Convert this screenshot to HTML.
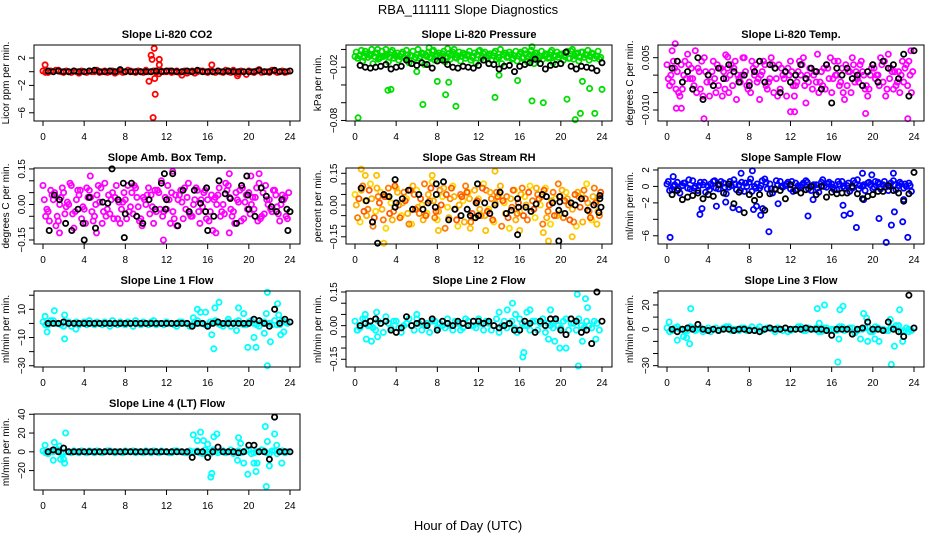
<!DOCTYPE html>
<html><head><meta charset="utf-8"><style>
body{margin:0;background:#fff;}
svg{display:block;font-family:"Liberation Sans",Arial,sans-serif;}
</style></head><body>
<svg id="chart" width="936" height="540" viewBox="0 0 936 540" xmlns="http://www.w3.org/2000/svg">
<rect width="936" height="540" fill="#fff"/>
<text x="468" y="14" text-anchor="middle" font-size="13">RBA_111111  Slope Diagnostics</text>
<text x="468" y="530" text-anchor="middle" font-size="13">Hour of Day (UTC)</text>
</svg>
<script>
const hourTicks=[0,4,8,12,16,20,24];
// CO2
const co2A=[0.1,-0.1,0,0.2,-0.1,0,0.1,-0.2,0,0.1,0,-0.1,0.1,0,-0.2,0.1,0,0.1,-0.1,0,0.2,0,-0.1,0.1,0,-0.1,0.1,0,-0.2,0.1,0,0.1,-0.1,0,0.1,-0.1,0,0.2,-0.3,0,0.1,-0.1,0.3,0,-0.1,0.1,0,-0.1];
const co2B=[-0.1,0.1,0.2,0,0.1,-0.1,0,0.1,-0.1,0,0.2,0,-0.1,0.1,0,-0.1,0.2,0,0.1,-0.1,0,0.1,-0.3,0,0.1,0,-0.1,0.1,0,-0.2,0.1,0,0.1,-0.1,0,0.2,-0.1,0,0.1,-0.4,0,0.1,-0.1,0,0.2,-0.1,0.1,0];
const co2Out=[[0.2,1.0],[10.3,-1.4],[10.5,2.4],[10.6,1.8],[10.7,-6.7],[10.8,3.4],[10.9,-3.3],[10.85,-1],[11.3,1.8],[11.3,1.0],[16.4,1.0],[18.9,-0.6],[13.5,-0.5]];
const co2K=[0.1,0,0.1,0,0,0.1,0,0,0.1,0.2,0,0,0.1,0,0.3,0,0,0,0,0,0,0.1,0,0.1,0.1,0,0,0.1,0,0.2,0,0,0,0.1,0,0.1,0,0,0,0,0,0.2,0,0,0.2,0,0,0.1];
// Pressure
const presA=[-0.008,-0.006,-0.002,-0.007,-0.004,-0.009,-0.006,-0.003,-0.008,-0.005,-0.001,-0.007,-0.006,-0.004,-0.008,-0.002,-0.006,-0.005,-0.009,-0.003,-0.007,-0.004,-0.006,-0.008,-0.002,-0.005,-0.007,-0.004,-0.009,-0.006,-0.003,-0.007,-0.005,-0.001,-0.006,-0.004,-0.008,-0.005,-0.003,-0.007,-0.006,-0.004,-0.002,-0.005,-0.003,-0.006,-0.004,-0.008];
const presB=[-0.010,-0.013,-0.009,-0.016,-0.011,-0.008,-0.014,-0.010,-0.012,-0.009,-0.015,-0.011,-0.010,-0.017,-0.009,-0.012,-0.010,-0.014,-0.011,-0.009,-0.013,-0.010,-0.012,-0.015,-0.010,-0.008,-0.012,-0.011,-0.016,-0.009,-0.011,-0.013,-0.010,-0.014,-0.009,-0.012,-0.011,-0.010,-0.015,-0.009,-0.012,-0.010,-0.011,-0.013,-0.009,-0.012,-0.010,-0.011];
const presC=[-0.003,-0.001,-0.005,0.000,-0.004,-0.002,-0.006,-0.001,-0.004,-0.003,-0.006,-0.002,0.000,-0.005,-0.003,-0.001,-0.004,-0.002,-0.005,0.000,-0.003,-0.006,-0.002,-0.004,-0.001,-0.003,-0.005,-0.002,0.000,-0.004,-0.006,-0.002,-0.003,-0.005,-0.001,-0.004,-0.002,-0.006,-0.001,-0.003,-0.005,-0.002,0.000,-0.004,-0.003,-0.001,-0.005,-0.002];
const presD=[-0.007,-0.009,-0.006,-0.008,-0.010,-0.007,-0.009,-0.006,-0.008,-0.010,-0.007,-0.009,-0.008,-0.006,-0.010,-0.007,-0.009,-0.008,-0.006,-0.010,-0.008,-0.007,-0.009,-0.006,-0.008,-0.010,-0.007,-0.009,-0.006,-0.008,-0.010,-0.007,-0.009,-0.008,-0.006,-0.010,-0.007,-0.009,-0.008,-0.006,-0.008,-0.010,-0.007,-0.009,-0.006,-0.008,-0.007,-0.009];
const presOut=[[0.3,-0.077],[3.2,-0.046],[3.5,-0.045],[6.6,-0.062],[8.0,-0.036],[8.8,-0.051],[9.1,-0.037],[9.8,-0.064],[13.6,-0.054],[14.0,-0.029],[15.8,-0.035],[17.2,-0.058],[18.3,-0.06],[17.4,-0.016],[20.6,-0.056],[21.4,-0.079],[21.9,-0.072],[22.1,-0.036],[22.8,-0.044],[23.3,-0.072],[24,-0.045],[6.0,-0.025],[2.2,0.0],[3,0.0],[7.2,0.002],[9,0.001],[17.2,0.003]];
const presK=[-0.018,-0.020,-0.021,-0.020,-0.019,-0.017,-0.022,-0.020,-0.019,-0.012,-0.016,-0.018,-0.015,-0.017,-0.021,-0.013,-0.012,-0.017,-0.020,-0.021,-0.019,-0.020,-0.021,-0.018,-0.012,-0.016,-0.017,-0.022,-0.019,-0.018,-0.025,-0.019,-0.017,-0.015,-0.011,-0.016,-0.022,-0.018,-0.017,-0.016,-0.003,-0.019,-0.022,-0.019,-0.020,-0.021,-0.024,-0.015];
// Li-820 Temp
const tempA=[0.003,-0.002,0.001,-0.004,0.006,-0.001,0.002,-0.006,0.000,0.004,-0.003,0.001,-0.005,0.002,-0.001,0.005,-0.002,0.000,-0.007,0.003,-0.001,0.002,-0.004,0.001,0.004,-0.003,0.000,-0.008,0.002,-0.002,0.001,0.003,-0.005,0.000,0.002,-0.003,0.005,-0.001,0.001,-0.006,0.003,0.000,-0.002,0.006,-0.004,0.001,-0.002,0.004];
const tempB=[-0.003,0.002,-0.006,0.004,-0.001,0.007,-0.004,0.001,-0.002,-0.005,0.002,-0.001,0.003,-0.007,0.000,-0.003,0.004,-0.002,0.001,-0.004,0.003,-0.006,0.000,0.002,-0.003,0.001,0.005,-0.002,0.000,-0.005,0.002,-0.001,0.004,-0.003,-0.007,0.001,-0.002,0.003,-0.004,0.000,-0.001,0.005,-0.006,0.002,-0.003,0.000,0.003,-0.005];
const tempC=[-0.001,0.004,-0.005,0.000,0.003,-0.003,0.001,0.005,-0.006,-0.001,0.002,-0.004,0.000,0.004,-0.002,0.001,-0.005,0.003,0.000,-0.003,0.005,-0.001,0.002,-0.006,0.001,-0.002,0.003,0.000,-0.004,0.006,-0.003,0.002,-0.001,0.004,-0.005,0.001,0.003,-0.002,0.000,-0.004,0.002,-0.003,0.004,-0.001,0.001,-0.005,0.002,0.000];
const tempD=[0.000,-0.004,0.003,-0.001,0.002,-0.005,0.004,-0.002,0.001,0.003,-0.006,0.002,-0.003,0.000,0.005,-0.004,0.002,-0.001,0.004,-0.002,-0.005,0.003,-0.001,0.000,-0.006,0.004,-0.003,0.002,0.001,-0.002,-0.004,0.005,0.000,-0.002,0.003,-0.005,0.001,0.004,-0.003,0.002,0.000,0.003,-0.004,0.001,-0.002,0.004,-0.003,0.001];
const tempOut=[[0.5,0.007],[0.8,0.009],[3.6,-0.0125],[5.7,0.0058],[5.9,0.0052],[19.3,-0.011],[23.4,-0.0125],[23.7,0.007],[0.9,-0.0095],[1.4,-0.0095],[12.0,-0.0105],[12.4,-0.0105]];
const tempK=[0.002,0.004,-0.002,0.001,-0.004,0.005,-0.007,0.000,-0.003,0.002,-0.001,0.003,0.001,-0.002,0.000,-0.003,0.001,0.004,-0.002,0.003,0.002,-0.005,0.001,-0.002,0.000,0.003,-0.001,0.002,0.001,-0.004,0.003,-0.008,0.002,0.000,0.002,-0.001,0.000,-0.003,0.001,0.003,-0.002,0.004,0.002,0.003,-0.001,0.006,-0.006,0.007];
// Amb box temp
const ambA=[0.08,-0.03,0.02,-0.07,0.05,0.00,-0.10,0.04,-0.02,0.06,-0.05,0.01,0.09,-0.04,0.03,-0.08,0.02,-0.01,0.07,-0.06,0.00,0.04,-0.03,0.10,-0.02,0.05,-0.09,0.01,0.03,-0.05,0.06,-0.01,0.02,-0.11,0.04,0.00,0.08,-0.03,0.01,-0.06,0.05,-0.02,0.09,-0.04,0.02,0.06,-0.07,0.03];
const ambB=[-0.05,0.06,-0.09,0.03,-0.01,0.08,0.02,-0.06,0.07,-0.03,0.04,-0.08,-0.02,0.05,-0.06,0.01,0.08,-0.04,-0.01,0.03,0.07,-0.08,0.05,-0.03,0.02,-0.06,0.04,0.07,-0.04,0.02,-0.08,0.06,-0.03,0.03,-0.05,0.09,-0.02,0.05,-0.07,0.04,0.00,0.07,-0.05,0.02,-0.03,-0.01,0.04,-0.06];
const ambC=[0.02,-0.07,0.05,0.00,-0.04,0.09,-0.03,0.06,-0.08,0.03,0.00,0.07,-0.05,0.02,0.08,-0.02,-0.06,0.05,0.03,-0.09,0.04,-0.01,0.06,-0.05,0.08,-0.03,0.02,-0.06,0.09,0.00,-0.03,0.05,-0.07,0.02,0.07,-0.04,0.03,-0.08,0.06,0.01,-0.04,0.03,-0.06,0.08,-0.02,0.04,0.00,-0.05];
const ambD=[-0.02,0.04,-0.05,0.07,0.01,-0.04,0.06,-0.01,0.03,-0.07,0.08,-0.03,0.04,-0.06,0.01,0.05,-0.03,0.08,-0.07,0.02,-0.04,0.06,-0.02,0.03,-0.08,0.04,0.06,-0.02,-0.05,0.07,0.02,-0.06,0.04,0.00,-0.03,0.06,-0.05,0.02,0.07,-0.02,0.03,-0.07,0.05,0.00,0.06,-0.04,0.02,0.05];
const ambOut=[[1.6,-0.12],[4.6,0.12],[5.2,-0.12],[11.7,-0.15],[12.6,0.14],[16.8,-0.12],[18.1,-0.12],[18.1,0.13],[20.2,0.12],[21.0,0.13]];
const ambKPts=[[0.6,-0.11],[1.1,0.04],[1.6,0.02],[2.2,-0.08],[2.8,-0.11],[3.4,-0.02],[3.9,-0.08],[4,-0.15],[4.5,0.03],[5.1,-0.10],[5.8,0.01],[6.3,0.005],[6.7,0.15],[7.3,0.02],[7.9,-0.14],[7.8,0.09],[8.0,-0.04],[8.6,0.09],[9.1,-0.05],[9.7,-0.08],[10.3,0.02],[10.9,-0.02],[11.5,0.09],[11.8,0.13],[11.9,-0.02],[12.0,0.02],[12.6,0.13],[13.1,-0.09],[13.6,0.06],[14.2,-0.03],[14.7,0.06],[15.3,0.005],[15.8,-0.03],[15.9,0.07],[16,-0.11],[16.6,-0.05],[17.1,0.10],[17.7,0.045],[18.2,0.025],[18.8,-0.08],[19.3,0.08],[19.8,0.12],[19.9,0.04],[20.0,-0.02],[20.6,-0.05],[21.2,0.07],[21.7,0.035],[22.2,-0.01],[22.7,-0.03],[23.2,0.02],[23.7,-0.02],[23.8,-0.11],[24.0,-0.03]];
// Gas stream RH
const rhA=[0.05,-0.08,0.02,0.10,-0.03,0.06,-0.11,0.01,0.08,-0.05,0.03,-0.09,0.07,0.00,-0.04,0.11,-0.07,0.04,-0.01,0.09,-0.10,0.02,0.06,-0.06,0.03,0.10,-0.02,-0.08,0.05,0.01,-0.11,0.07,-0.03,0.04,0.09,-0.06,0.00,0.08,-0.09,0.03,-0.04,0.06,0.01,-0.10,0.05,0.10,-0.07,0.02];
const rhB=[-0.06,0.09,-0.02,-0.10,0.04,-0.07,0.08,-0.03,0.00,0.06,-0.09,0.05,-0.04,0.10,0.02,-0.06,0.07,-0.11,0.03,-0.02,0.05,0.09,-0.08,0.01,-0.05,0.07,0.03,0.06,-0.10,0.04,-0.01,-0.04,0.08,-0.07,0.02,0.05,-0.09,-0.03,0.06,0.10,-0.06,0.00,-0.08,0.04,0.07,-0.03,0.08,-0.05];
const rhC=[0.00,0.07,-0.05,0.03,0.08,-0.02,0.04,-0.07,0.06,0.01,-0.04,0.09,-0.01,-0.07,0.05,0.02,-0.03,0.08,-0.06,0.04,0.00,-0.08,0.03,0.07,-0.02,-0.05,0.06,0.01,0.09,-0.04,0.03,-0.07,0.05,0.00,-0.03,0.08,0.04,-0.06,0.02,-0.05,0.07,0.03,-0.02,0.06,-0.08,0.01,0.04,-0.03];
const rhD=[0.03,-0.03,0.07,-0.06,0.01,0.04,-0.04,0.09,-0.06,0.02,0.07,-0.02,0.03,-0.05,0.08,-0.03,0.00,0.05,0.08,-0.07,0.04,0.06,-0.04,0.02,0.08,-0.03,-0.07,0.04,0.02,-0.06,0.07,0.01,-0.05,0.06,-0.02,0.03,0.07,0.00,-0.05,0.04,0.02,-0.07,0.05,-0.01,0.03,-0.06,0.01,0.06];
const rhOut=[[0.6,0.17],[1.0,0.14],[2.1,0.14],[2.8,-0.18],[7.5,0.14],[8.1,-0.12],[11.2,-0.11],[12.7,-0.12],[13.6,0.16],[16.0,-0.12],[18.3,-0.13],[18.8,-0.17],[21.1,-0.15],[23.5,-0.09]];
const rhKPts=[[0.6,0.08],[1.1,0.02],[1.7,-0.08],[2.2,-0.18],[2.8,0.05],[3.3,0.04],[3.9,-0.01],[3.9,0.12],[4,0.01],[4.6,0.03],[5.2,0.07],[5.6,-0.02],[6.2,0.05],[6.6,-0.02],[7.1,0.01],[7.8,-0.01],[7.9,0.10],[7.9,0.05],[8.6,0.11],[9.1,-0.07],[9.7,-0.02],[10.3,-0.05],[10.9,-0.02],[11.2,-0.05],[11.7,-0.06],[11.8,0.01],[11.9,0.10],[12.0,-0.05],[12.6,0.01],[13.1,-0.04],[13.6,0.00],[14.1,0.06],[14.7,-0.04],[15.2,-0.025],[15.8,-0.14],[15.8,0.03],[15.9,-0.01],[16.6,-0.01],[17.1,-0.03],[17.6,0.005],[18.2,0.05],[18.6,0.04],[19.2,0.01],[19.8,-0.025],[19.9,0.015],[19.9,0.04],[19.8,-0.17],[20.4,-0.04],[21.0,0.01],[21.4,0.00],[22.0,0.03],[22.6,-0.025],[23.2,0.00],[23.7,-0.035],[23.8,0.045],[23.9,-0.01],[23.8,0.03]];
// Sample flow
const sfA=[0.3,-0.4,0.5,0.1,-0.2,0.7,-0.5,0.2,0.0,0.6,-0.3,0.4,-0.1,0.8,0.2,-0.6,0.5,0.0,-0.2,0.9,0.3,-0.4,0.6,0.1,-0.3,0.4,0.0,0.7,-0.5,0.2,0.5,-0.1,0.3,-0.4,0.6,0.1,-0.2,0.8,0.0,0.4,-0.3,0.5,0.2,-0.5,0.7,0.1,-0.2,0.4];
const sfB=[-0.5,0.2,-0.8,0.4,-0.3,0.0,0.5,-0.7,0.3,-0.2,0.6,-0.9,0.1,-0.4,0.5,0.0,-0.6,0.3,0.7,-0.3,-0.8,0.2,-0.1,0.5,-0.6,0.1,0.4,-0.3,0.2,-0.7,0.0,0.5,-0.4,0.3,-0.2,-0.6,0.4,0.1,-0.5,0.2,0.6,-0.3,-0.1,0.4,-0.4,0.3,0.0,-0.6];
const sfC=[0.6,0.0,-0.3,0.4,0.8,-0.2,0.1,0.5,-0.4,0.7,0.2,-0.1,0.6,0.3,-0.5,0.4,0.9,-0.2,0.1,0.5,-0.3,0.7,0.0,0.3,0.6,-0.4,0.2,0.5,0.1,-0.2,0.8,0.3,-0.1,0.6,0.0,0.4,0.7,-0.3,0.2,0.5,-0.1,0.3,0.6,0.0,0.2,0.5,0.3,0.1];
const sfOut=[[0.3,-6.2],[0.6,1.2],[3.2,-3.4],[3.4,-2.7],[4.8,-2.4],[5.7,-1.9],[6.4,-2.6],[7.0,-2.8],[7.2,1.6],[8.3,1.9],[8.4,-2.8],[8.7,-2.4],[9.1,-3.5],[9.3,-2.7],[9.9,-5.5],[10.8,-2.1],[13.7,-3.6],[14.2,-1.6],[17.1,-2.3],[17.2,-3.5],[17.8,-3.3],[18.4,-5.0],[19.0,1.6],[19.1,-1.6],[19.9,1.4],[20.6,-3.9],[21.3,-6.8],[21.8,-4.7],[22.1,-3.1],[22.0,1.6],[22.9,-4.3],[23.4,-6.2],[23.0,-1.6]];
const sfK=[-1.0,-0.5,-1.6,-1.3,-1.1,-0.8,-1.5,-1.0,-1.2,0.2,-0.8,0.3,-2.1,-0.7,-3.2,-1.0,-1.7,-1.0,-2.9,-0.9,-0.3,-0.5,-1.5,0.2,-0.5,-0.8,-0.4,0.0,-1.0,0.0,-1.3,-0.7,-0.9,-0.8,-0.8,0.0,-0.9,-1.5,-1.2,-1.0,-0.6,-0.6,0.1,-0.5,-0.8,-1.8,-0.9,1.7];
// Line 1
const l1A=[1,-1,2,0,-2,1,0,-1,1,2,-1,0,1,-2,0,1,-1,0,2,-1,0,1,-1,0,1,0,-2,1,0,-1,2,0,-1,1,0,-2,1,0,2,-1,1,0,-2,1,0,2,-1,1];
const l1B=[-1,2,0,-1,1,-2,1,0,-1,0,1,-1,0,2,-1,0,1,-2,0,1,-1,2,0,-1,0,-1,1,0,-2,1,0,-1,1,2,-1,0,-2,1,0,-1,2,-1,1,0,-1,-1,2,0];
const l1Out=[[0.2,5],[0.4,-6],[1.1,9],[2.1,6],[2.1,-11],[3.2,-4],[14.6,4],[15.0,10],[15.3,8],[15.8,8],[16.4,-8],[16.6,-18],[16.7,11],[17.1,15],[18.0,3],[18.8,-5],[19.0,11],[19.5,7],[19.9,-17],[20.5,-10],[20.7,-17],[21.5,-7],[21.7,7],[21.8,-30],[21.8,22],[22.1,-13],[22.8,14],[22.9,6],[23.1,-8],[23.4,-6]];
const l1K=[0,0,0,1,0,0,0,0,0,0,0,0,0,0,0,0,0,0,0,0,0,0,0,0,0,0,0,0,-2,0,0,-2,0,1,0,0,0,0,0,0,3,2,0,-2,10,0,3,1];
// Line 2
const l2A=[0.02,-0.01,0.03,0.00,-0.02,0.01,0.04,-0.01,0.02,-0.03,0.01,0.00,0.03,-0.02,0.01,0.02,-0.01,0.00,0.03,-0.02,0.01,-0.01,0.02,0.00,0.03,-0.02,0.01,0.00,-0.03,0.02,0.01,-0.01,0.03,0.00,-0.02,0.02,0.01,-0.03,0.00,0.02,-0.01,0.03,0.01,-0.02,0.00,0.02,-0.01,0.01];
const l2B=[-0.02,0.03,0.00,-0.01,0.02,-0.03,0.01,0.02,-0.01,0.00,0.03,-0.02,0.01,0.00,-0.03,0.02,0.01,-0.01,0.00,0.02,-0.02,0.03,0.00,-0.01,0.01,0.02,-0.02,0.03,0.00,-0.01,0.02,-0.03,0.01,0.00,0.02,-0.02,0.03,0.01,-0.01,0.00,0.02,-0.02,0.01,0.03,-0.01,0.00,0.02,-0.02];
const l2Out=[[0.2,-0.02],[1.0,0.05],[1.1,-0.06],[1.6,-0.07],[2.1,0.06],[2.2,-0.05],[6.0,0.05],[14.0,0.06],[14.8,0.07],[15.3,0.10],[15.6,0.05],[16.3,-0.14],[16.4,-0.12],[16.7,0.06],[17.0,0.07],[18.8,-0.06],[19.0,0.07],[19.4,-0.07],[19.9,-0.10],[20.5,-0.10],[21.6,0.14],[21.7,-0.18],[22.1,-0.07],[22.4,0.12],[22.6,0.08],[23.4,-0.06]];
const l2K=[0.00,0.01,0.02,0.03,0.01,0.02,-0.02,-0.03,-0.01,0.04,0.00,0.01,0.02,0.00,0.03,-0.02,0.02,0.01,0.00,0.02,0.01,0.00,0.02,0.02,0.01,0.02,0.00,-0.01,0.00,0.01,-0.02,-0.02,0.02,0.01,-0.03,0.02,0.00,0.03,0.03,-0.02,-0.04,0.03,0.02,-0.03,-0.02,-0.08,0.15,0.02];
// Line 3
const l3A=[1,-1,2,0,-1,1,0,-2,1,0,-1,1,2,0,-1,1,0,-1,2,0,1,-2,0,1,-1,0,2,-1,0,1,-2,1,0,-1,2,0,1,-1,0,2,-2,1,0,-1,1,3,-1,0];
const l3B=[-2,1,0,-1,2,-1,1,0,-2,1,0,2,-1,0,1,-1,2,0,-1,1,0,1,-1,-2,0,2,-1,1,0,-2,1,-1,0,2,-1,1,-3,0,1,-2,2,0,-1,1,3,-2,1,-1];
const l3Out=[[0.2,6],[1.0,-9],[1.6,-6],[1.9,-7],[2.2,-12],[2.3,17],[14.6,17],[14.8,5],[15.3,20],[16.6,-27],[16.7,-8],[16.8,16],[17.1,19],[18.8,-8],[19.1,13],[19.4,9],[19.5,-10],[20.2,-8],[20.6,-10],[21.7,8],[21.8,-29],[22.1,-14],[22.6,16],[22.9,-10],[23.5,-2]];
const l3K=[0,-2,0,1,0,4,0,-1,0,-1,0,0,-1,0,0,-1,-1,-2,0,1,0,0,1,0,0,0,1,0,0,0,-1,-5,0,0,0,-4,0,1,6,0,0,-1,6,0,-2,-6,28,1];
// Line 4
const l4A=[1,-2,0,2,-1,0,1,-1,0,1,-1,0,0,1,-1,0,1,0,-1,0,1,-1,0,1,0,-1,1,0,-1,0,1,-2,0,2,-1,1,0,-2,1,0,2,-1,0,1,-2,1,0,-1];
const l4B=[-1,1,2,-1,0,-1,0,1,-1,0,1,-1,1,0,0,-1,0,1,0,-1,0,1,-1,0,-1,1,0,-1,1,0,-1,2,-2,0,1,-1,2,0,-1,1,-2,0,2,-1,1,-2,1,0];
const l4Out=[[0.2,7],[1.0,-9],[1.1,10],[1.6,6],[1.7,-8],[2.0,-8],[2.1,-12],[2.2,20],[14.6,18],[15.0,12],[15.3,21],[15.6,12],[16.0,8],[16.3,-27],[16.4,-23],[16.6,16],[16.9,19],[18.9,-9],[19.0,15],[19.2,9],[19.5,-12],[19.9,-24],[20.5,-12],[20.7,-21],[20.8,-12],[21.6,27],[21.7,-37],[21.8,11],[22.0,-15],[22.5,19],[22.7,7],[23.2,-12]];
const l4K=[0,2,0,4,0,0,0,0,0,0,0,0,0,0,0,0,0,0,0,0,0,0,0,0,0,0,0,0,-6,0,0,-6,0,5,0,0,0,-1,0,7,7,0,0,-8,37,0,0,0];

const NS='http://www.w3.org/2000/svg';
const svg=document.getElementById('chart');
function mk(tag,attrs,parent){const e=document.createElementNS(NS,tag);for(const k in attrs)e.setAttribute(k,attrs[k]);(parent||svg).appendChild(e);return e;}
function idxHours(arr,off){return arr.map((v,i)=>[off+i*0.5,v]);}

const panels=[
 {t:'Slope Li-820 CO2',yl:'Licor ppm per min.',c:0,r:0,lim:[-7.2,3.9],ticks:[-6,-4,-2,0,2],labs:[-6,-2,2],fmt:v=>String(v),s:[[idxHours(co2A,0),'#ff0000'],[idxHours(co2B,0.25),'#ff0000'],[co2Out,'#ff0000'],[idxHours(co2K,0.5),'#000']]},
 {t:'Slope Li-820 Pressure',yl:'kPa per min.',c:1,r:0,lim:[-0.0806,0.005],ticks:[0,-0.02,-0.04,-0.06,-0.08],labs:[-0.02,-0.08],fmt:v=>v.toFixed(2),s:[[idxHours(presB,0.25),'#00dd00'],[idxHours(presA,0),'#00dd00'],[idxHours(presC,0.125),'#00dd00'],[idxHours(presD,0.375),'#00dd00'],[presOut,'#00dd00'],[idxHours(presK,0.5),'#000']]},
 {t:'Slope Li-820 Temp.',yl:'degrees C per min.',c:2,r:0,lim:[-0.01315,0.00864],ticks:[0.005,0,-0.005,-0.01],labs:[0.005,-0.01],fmt:v=>v.toFixed(3),s:[[idxHours(tempA,0),'#ff00ff'],[idxHours(tempB,0.25),'#ff00ff'],[idxHours(tempC,0.125),'#ff00ff'],[idxHours(tempD,0.375),'#ff00ff'],[tempOut,'#ff00ff'],[idxHours(tempK,0.5),'#000']]},
 {t:'Slope Amb. Box Temp.',yl:'degrees C per min.',c:0,r:1,lim:[-0.167,0.154],ticks:[0.15,0.1,0.05,0,-0.05,-0.1,-0.15],labs:[0.15,0,-0.15],fmt:v=>v.toFixed(2),s:[[idxHours(ambA,0),'#ff00ff'],[idxHours(ambB,0.25),'#ff00ff'],[idxHours(ambC,0.125),'#ff00ff'],[idxHours(ambD,0.375),'#ff00ff'],[ambOut,'#ff00ff'],[ambKPts,'#000']]},
 {t:'Slope Gas Stream RH',yl:'percent per min.',c:1,r:1,lim:[-0.184,0.175],ticks:[0.15,0.1,0.05,0,-0.05,-0.1,-0.15],labs:[0.15,0,-0.15],fmt:v=>v.toFixed(2),s:[[idxHours(rhA,0),'#ffd700'],[idxHours(rhB,0.25),'#ff7a00'],[idxHours(rhC,0.125),'#ffb000'],[idxHours(rhD,0.375),'#ff5a00'],[rhOut,'#ffc000'],[rhKPts,'#000']]},
 {t:'Slope Sample Flow',yl:'ml/min per min.',c:2,r:1,lim:[-7.0,2.24],ticks:[2,0,-2,-4,-6],labs:[2,0,-2,-6],fmt:v=>String(v),s:[[idxHours(sfA,0),'#0000ff'],[idxHours(sfB,0.25),'#0000ff'],[idxHours(sfC,0.125),'#0000ff'],[sfOut,'#0000ff'],[idxHours(sfK,0.5),'#000']]},
 {t:'Slope Line 1 Flow',yl:'ml/min per min.',c:0,r:2,lim:[-30.9,23.0],ticks:[20,10,0,-10,-20,-30],labs:[10,-10,-30],fmt:v=>String(v),s:[[idxHours(l1A,0),'#00ffff'],[idxHours(l1B,0.25),'#00ffff'],[l1Out,'#00ffff'],[idxHours(l1K,0.5),'#000']]},
 {t:'Slope Line 2 Flow',yl:'ml/min per min.',c:1,r:2,lim:[-0.1845,0.1545],ticks:[0.15,0.1,0.05,0,-0.05,-0.1,-0.15],labs:[0.15,0,-0.15],fmt:v=>v.toFixed(2),s:[[idxHours(l2A,0),'#00ffff'],[idxHours(l2B,0.25),'#00ffff'],[l2Out,'#00ffff'],[idxHours(l2K,0.5),'#000']]},
 {t:'Slope Line 3 Flow',yl:'ml/min per min.',c:2,r:2,lim:[-31.1,31.5],ticks:[30,20,10,0,-10,-20,-30],labs:[20,0,-30],fmt:v=>String(v),s:[[idxHours(l3A,0),'#00ffff'],[idxHours(l3B,0.25),'#00ffff'],[l3Out,'#00ffff'],[idxHours(l3K,0.5),'#000']]},
 {t:'Slope Line 4 (LT) Flow',yl:'ml/min per min.',c:0,r:3,lim:[-40.7,40.3],ticks:[40,20,0,-20],labs:[40,20,0,-20],fmt:v=>String(v),s:[[idxHours(l4A,0),'#00ffff'],[idxHours(l4B,0.25),'#00ffff'],[l4Out,'#00ffff'],[idxHours(l4K,0.5),'#000']]}
];

panels.forEach((p,pi)=>{
  const x0=34+312*p.c, y0=45+123*p.r, W=266, H=76;
  const g=mk('g',{});
  
  
  const xs=h=>x0+9+h*(247/24);
  const ys=v=>y0+H-(v-p.lim[0])/(p.lim[1]-p.lim[0])*H;
  const tt=mk('text',{x:x0+W/2,y:y0-7,'text-anchor':'middle','font-size':'11','font-weight':'bold'},g);
  tt.textContent=p.t;
  
  
  const yt=mk('text',{x:0,y:0,'text-anchor':'middle','font-size':'10',transform:`translate(${x0-25},${y0+H/2}) rotate(-90)`},g);
  yt.textContent=p.yl;
  
  
  const pg=mk('g',{fill:'none','stroke-width':'1.8'},g);
  
  
  p.s.forEach(([pts,col])=>{
    pts.forEach(([h,v])=>{
      const c=mk('circle',{cx:xs(h).toFixed(1),cy:ys(v).toFixed(1),r:'2.6',stroke:col},pg);
      
      
    });
  });
  const box=mk('rect',{x:x0,y:y0,width:W,height:H,fill:'none',stroke:'#000','stroke-width':'1'},g);
  
  
  hourTicks.forEach(h=>{
    const x=xs(h);
    mk('line',{x1:x,x2:x,y1:y0+H,y2:y0+H+5,stroke:'#000'},g);
    const t=mk('text',{x:x,y:y0+H+19,'text-anchor':'middle','font-size':'10'},g);
    t.textContent=h;
    
    
  });
  p.ticks.forEach(v=>{
    const y=ys(v);
    mk('line',{x1:x0-5,x2:x0,y1:y,y2:y,stroke:'#000'},g);
  });
  p.labs.forEach(v=>{
    const y=ys(v);
    const t=mk('text',{x:0,y:0,'text-anchor':'middle','font-size':'10',transform:`translate(${x0-9},${y}) rotate(-90)`},g);
    t.textContent=String(p.fmt(v)).replace('-','\u2212');
    
    
  });
});
</script>
</body></html>
